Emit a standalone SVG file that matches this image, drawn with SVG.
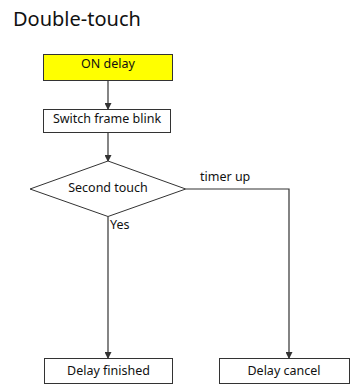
<svg xmlns="http://www.w3.org/2000/svg" width="351" height="387" viewBox="0 0 351 387">
<defs>
<marker id="ah" markerWidth="7" markerHeight="7" refX="6" refY="3.5" orient="auto" markerUnits="userSpaceOnUse">
<path d="M0,0 L7,3.5 L0,7 Z" fill="#333"/>
</marker>
<style>
.box{fill:#fff;stroke:#333;stroke-width:1}
.t{font-family:"Noto Sans","Open Sans",sans-serif;font-size:12.5px;fill:#111}
.c{text-anchor:middle}
.ln{fill:none;stroke:#333;stroke-width:1.2}
</style>
</defs>
<rect width="351" height="387" fill="#fff"/>
<text x="13" y="26" font-family="'Noto Sans','Open Sans',sans-serif" font-size="20" fill="#111">Double-touch</text>
<g id="connectors">
<path class="ln" d="M108,81 V109" marker-end="url(#ah)"/>
<path class="ln" d="M108,133 V161" marker-end="url(#ah)"/>
<path class="ln" d="M108,216.5 V358" marker-end="url(#ah)"/>
<path class="ln" d="M185.7,189 H289 V358" marker-end="url(#ah)"/>
<text class="t" x="200" y="181">timer up</text>
<text class="t" x="110" y="229">Yes</text>
</g>
<g id="on-delay">
<rect x="43.5" y="54.5" width="129" height="26" fill="#ffff00" stroke="#333"/>
<text class="t c" x="108" y="68">ON delay</text>
</g>
<g id="switch-frame-blink">
<rect class="box" x="43.5" y="109.5" width="127" height="23"/>
<text class="t c" x="107" y="123">Switch frame blink</text>
</g>
<g id="second-touch">
<path class="box" d="M108,161 L185.7,189 L108,216.5 L30,189 Z"/>
<text class="t c" x="108" y="192">Second touch</text>
</g>
<g id="delay-finished">
<rect class="box" x="44.5" y="358.5" width="128" height="25"/>
<text class="t c" x="108.5" y="375">Delay finished</text>
</g>
<g id="delay-cancel">
<rect class="box" x="219.5" y="358.5" width="130" height="25"/>
<text class="t c" x="284" y="375">Delay cancel</text>
</g>
</svg>
